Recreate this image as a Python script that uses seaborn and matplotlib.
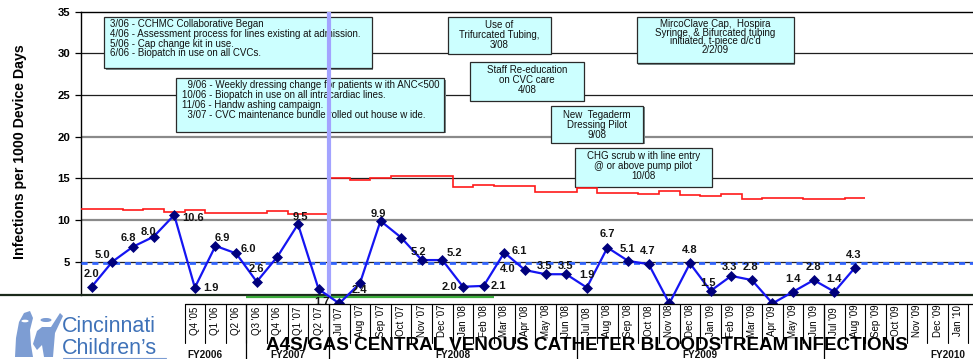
import numpy as np
import pandas as pd
import matplotlib
matplotlib.use("Agg")
import matplotlib.pyplot as plt
import matplotlib.transforms as mtransforms
from matplotlib.patches import Rectangle, Polygon, Circle
from matplotlib.lines import Line2D
import seaborn as sns

# ------------------------------------------------------------------ data
# CVC bloodstream infection rate per 1000 device days
rate = [2.0, 5.0, 6.8, 8.0, 10.6, 1.9, 6.9, 6.0, 2.6, 5.6, 9.5, 1.7,
        0.0, 2.4, 9.9, 7.9, 5.2, 5.2, 2.0, 2.1, 6.1, 4.0, 3.5, 3.5,
        1.9, 6.7, 5.1, 4.7, 0.0, 4.8, 1.5, 3.3, 2.8, 0.0, 1.4, 2.8, 1.4, 4.3]

# upper control limit, before and after the July 2007 shift
ucl_phase1 = [11.3, 11.3, 11.2, 11.3, 11.0, 11.2, 10.8, 10.8, 10.8, 11.1, 10.7, 10.7]
ucl_phase2 = [15.0, 14.8, 15.0, 15.3, 15.3, 15.3, 14.0, 14.25, 14.1, 14.1, 13.4, 13.4,
              13.8, 13.2, 13.2, 13.1, 13.5, 13.0, 12.9, 13.1, 12.5, 12.7, 12.6, 12.5,
              12.5, 12.6]

mean_rate = 4.8
baseline_rate = 0.95
goal_rate = 0.77

period_labels = ["Q4 '05", "Q1 '06", "Q2 '06", "Q3 '06", "Q4 '06", "Q1 '07", "Q2 '07",
                 "Jul '07", "Aug '07", "Sep '07", "Oct '07", "Nov '07", "Dec '07",
                 "Jan '08", "Feb '08", "Mar '08", "Apr '08", "May '08", "Jun '08",
                 "Jul '08", "Aug '08", "Sep '08", "Oct '08", "Nov '08", "Dec '08",
                 "Jan '09", "Feb '09", "Mar '09", "Apr '09", "May '09", "Jun '09",
                 "Jul '09", "Aug '09", "Sep '09", "Oct '09", "Nov '09", "Dec '09", "Jan '10"]
fiscal_years = ["FY2006", "FY2007", "FY2008", "FY2009", "FY2010"]

# ------------------------------------------------------------- layout
W, H = 973, 359
SLOT = 20.63                 # px between consecutive periods
X0_PX = 91.7                 # px of first period
Y0_PX, Y35_PX = 303.4, 11.7  # px of values 0 and 35

first_label_slot = 5
fy_edges = [3.5, 7.5, 11.5, 23.5, 35.5, 47.5]
shift_at = 11.5
goal_span = (7.5, 19.5)

# value-label offsets in px (dx right, dy down); None = not labelled
label_offsets = [(0, -13), (-10, -7), (-5, -9), (-5, -5), (19, 3), (16, 0), (7, -8),
                 (12, -4), (0, -13), None, (2, -7), (3, 13),
                 None, (0, 7), (-2, -7), None, (-3, -8), (12, -7), (-14, 0), (15, 0),
                 (15, -1.5), (-17, -1.5), (-1, -8), (-1, -8),
                 (0, -13), (0, -14), (-1, -12), (-1, -13), None, (0, -13), (-3, -8),
                 (-1.5, -9), (-1, -13), None, (0, -13), (0, -13), (0, -13), (-1, -13)]

notes = [
    dict(rect=(104.3, 16.7, 371.7, 68.3), x=110, y0=24.0, dy=9.7, ha="left",
         lines=["3/06 - CCHMC Collaborative Began",
                "4/06 - Assessment process for lines existing at admission.",
                "5/06 - Cap change kit in use.",
                "6/06 - Biopatch in use on all CVCs."]),
    dict(rect=(175.7, 78.3, 444.3, 131.7), x=181.7, y0=84.3, dy=10.0, ha="left",
         lines=["  9/06 - Weekly dressing change for patients w ith ANC<500",
                "10/06 - Biopatch in use on all intracardiac lines.",
                "11/06 - Handw ashing campaign.",
                "  3/07 - CVC maintenance bundle rolled out house w ide."]),
    dict(rect=(448.3, 16.7, 550.7, 54.0), x=499.5, y0=25.0, dy=10.0, ha="center",
         lines=["Use of", "Trifurcated Tubing,", "3/08"]),
    dict(rect=(470.0, 61.7, 584.0, 101.0), x=527.0, y0=69.3, dy=10.3, ha="center",
         lines=["Staff Re-education", "on CVC care", "4/08"]),
    dict(rect=(550.7, 106.0, 643.3, 142.7), x=597.0, y0=114.3, dy=10.0, ha="center",
         lines=["New  Tegaderm", "Dressing Pilot", "9/08"]),
    dict(rect=(575.0, 148.3, 711.7, 187.0), x=643.3, y0=156.0, dy=10.0, ha="center",
         lines=["CHG scrub w ith line entry", "@ or above pump pilot", "10/08"]),
    dict(rect=(636.7, 16.7, 794.0, 63.3), x=715.3, y0=24.0, dy=8.4, ha="center",
         lines=["MircoClave Cap,  Hospira", "Syringe, & Bifurcated tubing",
                "initiated, t-piece d/c'd", "2/2/09"]),
]


def fx(px):
    return px / W


def fy(py):
    return 1 - py / H


# ------------------------------------------------------------- figure
sns.set_theme(style="white")
plt.rcParams["font.family"] = ["Liberation Sans", "DejaVu Sans"]

fig = plt.figure(figsize=(W / 100, H / 100), dpi=100)
fig.patch.set_facecolor("white")

ax_left_px = X0_PX - 0.5 * SLOT
ax = fig.add_axes([fx(ax_left_px), fy(Y0_PX), fx(W - ax_left_px), (Y0_PX - Y35_PX) / H])
ax.set_facecolor("white")
ax.set_xlim(-0.5, -0.5 + (W - ax_left_px) / SLOT)
ax.set_ylim(0, 35)

# horizontal reference lines
for v in [5, 15, 25, 30]:
    ax.axhline(v, color="#1e1e1e", lw=0.9, zorder=1)
for v in [10, 20]:
    ax.axhline(v, color="#8a8a8a", lw=1.6, zorder=1)

# spines and y axis
for side in ["right", "bottom"]:
    ax.spines[side].set_visible(False)
ax.spines["top"].set_color("black")
ax.spines["top"].set_linewidth(1.0)
ax.spines["left"].set_color("black")
ax.spines["left"].set_linewidth(1.0)
ax.spines["left"].set_bounds(baseline_rate, 35)
ax.set_xticks([])
ax.set_yticks(range(5, 36, 5))
ax.tick_params(axis="y", direction="out", length=4, width=0.9, labelsize=8.2,
               pad=4, colors="black", left=True)
for lbl in ax.get_yticklabels():
    lbl.set_fontweight("bold")

# annotation boxes
fig_tf = fig.transFigure
for note in notes:
    x1, y1, x2, y2 = note["rect"]
    ax.add_patch(Rectangle((fx(x1) + 1.3 / W, fy(y2) - 1.3 / H), fx(x2 - x1), (y2 - y1) / H,
                           transform=fig_tf, facecolor="#7a8a8a", edgecolor="none",
                           zorder=1.9, clip_on=False))
    ax.add_patch(Rectangle((fx(x1), fy(y2)), fx(x2 - x1), (y2 - y1) / H,
                           transform=fig_tf, facecolor="#ccffff", edgecolor="#2a2a2a",
                           lw=0.9, zorder=2, clip_on=False))
    for k, line in enumerate(note["lines"]):
        ax.text(fx(note["x"]), fy(note["y0"] + k * note["dy"] + 3.4), line,
                transform=fig_tf, ha=note["ha"], va="baseline", fontsize=7.0,
                color="#111111", zorder=3, clip_on=False)

# phase shift marker
ax.axvline(shift_at, ymin=baseline_rate / 35, ymax=1, color="#a3a3ff", lw=3.0, zorder=4)

# control limits
edges1 = np.arange(len(ucl_phase1) + 1) - 0.5
edges2 = np.arange(len(ucl_phase1), len(ucl_phase1) + len(ucl_phase2) + 1) - 0.5
ax.stairs(ucl_phase1, edges1, baseline=None, color="#ff1a1a", lw=1.2, zorder=3)
ax.stairs(ucl_phase2, edges2, baseline=None, color="#ff1a1a", lw=1.2, zorder=3)

# mean line
ax.axhline(mean_rate, color="#3366ff", lw=2.0, dashes=(2.2, 1.7), zorder=3)

# bottom rule and goal segment
base_tf = mtransforms.blended_transform_factory(fig_tf, ax.transData)
ax.add_line(Line2D([0, 1], [baseline_rate, baseline_rate], transform=base_tf,
                   color="#1b2a1b", lw=1.6, zorder=3, clip_on=False))
ax.hlines(goal_rate, *goal_span, color="#3cab3c", lw=1.6, zorder=3, clip_on=False)

# infection rate series
df = pd.DataFrame({"slot": np.arange(len(rate)), "rate": rate})
sns.lineplot(data=df, x="slot", y="rate", ax=ax, color="#1515f2", linewidth=1.6,
             marker="D", markersize=5.2, markerfacecolor="#00007c",
             markeredgecolor="#00007c", markeredgewidth=0.5, zorder=5,
             clip_on=False, legend=False)
ax.set_xlabel("")
ax.set_ylabel("Infections per 1000 Device Days", fontsize=10.2, fontweight="bold",
              color="black")
ax.yaxis.set_label_coords((27.0 - ax_left_px) / (W - ax_left_px), 0.52)

for i, (v, off) in enumerate(zip(rate, label_offsets)):
    if off is None:
        continue
    ax.annotate(f"{v:.1f}", xy=(i, v), xytext=(off[0] * 0.72, -off[1] * 0.72),
                textcoords="offset points", ha="center", va="center", fontsize=8.0,
                fontweight="bold", color="#141414", zorder=6, annotation_clip=False)

# --------------------------------------------------- footer / axis table
TABLE_TOP = 303.5
fig.add_artist(Rectangle((0, 0), 1, fy(TABLE_TOP), transform=fig_tf,
                         facecolor="white", edgecolor="none", zorder=1))
col_tf = mtransforms.blended_transform_factory(ax.transData, fig_tf)

last_edge = first_label_slot + len(period_labels) - 0.5
fig.add_artist(Line2D([first_label_slot - 0.5, last_edge + 2], [fy(TABLE_TOP)] * 2,
                      transform=col_tf, color="black", lw=0.9, zorder=2))
for k in range(len(period_labels) + 1):
    xe = first_label_slot - 0.5 + k
    fig.add_artist(Line2D([xe, xe], [fy(TABLE_TOP), fy(343)], transform=col_tf,
                          color="black", lw=0.8, zorder=2))
for xe in fy_edges[1:-1]:
    fig.add_artist(Line2D([xe, xe], [fy(TABLE_TOP), 0], transform=col_tf,
                          color="black", lw=0.9, zorder=2))

for k, lab in enumerate(period_labels):
    fig.text(first_label_slot + k, fy(321), lab, transform=col_tf, rotation=90,
             ha="center", va="center", fontsize=7.0, color="black", zorder=3)

for name, a, b in zip(fiscal_years, fy_edges[:-1], fy_edges[1:]):
    fig.text((a + b) / 2, fy(357.6), name, transform=col_tf, ha="center",
             va="baseline", fontsize=7.2, fontweight="bold", color="#111111", zorder=3)

fig.text(fx(266.5), fy(349.5), "A4S/GAS CENTRAL VENOUS CATHETER BLOODSTREAM INFECTIONS",
         ha="left", va="baseline", fontsize=13.6, fontweight="bold", color="black",
         zorder=4)

# hospital logo
logo_blue = "#3f72b8"
icon_blue = "#7d9dd3"


def pxy(x, y):
    return (fx(x), fy(y))


fig.add_artist(Polygon([pxy(15, 357), pxy(16, 338), pxy(19, 322), pxy(24, 313),
                        pxy(30, 311), pxy(33, 318), pxy(30, 330), pxy(31, 345),
                        pxy(33, 357)], closed=True, transform=fig_tf,
                       facecolor=icon_blue, edgecolor="none", zorder=2))
fig.add_artist(Circle(pxy(25, 321), 3.6 / W, transform=fig_tf, facecolor="white",
                      edgecolor="none", zorder=2.1))
fig.add_artist(Circle(pxy(46, 320), 5.5 / W, transform=fig_tf, facecolor=icon_blue,
                      edgecolor="none", zorder=2))
fig.add_artist(Polygon([pxy(37, 331), pxy(42, 327), pxy(51, 327), pxy(60, 313),
                        pxy(63, 316), pxy(55, 333), pxy(53, 357), pxy(44, 357),
                        pxy(42, 345), pxy(37, 350), pxy(33, 344)], closed=True,
                       transform=fig_tf, facecolor=icon_blue, edgecolor="none",
                       zorder=2))
fig.text(fx(62), fy(332.5), "Cincinnati", ha="left", va="baseline", fontsize=15.5,
         color=logo_blue, zorder=3)
fig.text(fx(62), fy(353.5), "Children\u2019s", ha="left", va="baseline", fontsize=15.5,
         color=logo_blue, zorder=3)
fig.add_artist(Line2D([fx(63), fx(166)], [fy(357.6)] * 2, transform=fig_tf,
                      color=icon_blue, lw=0.8, zorder=3))

fig.savefig("out.png", dpi=100, facecolor="white")
